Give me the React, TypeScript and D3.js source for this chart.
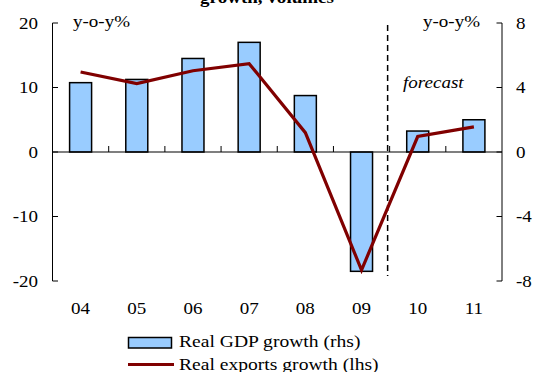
import React from "react";
import * as d3 from "d3";

const categories = ["04", "05", "06", "07", "08", "09", "10", "11"];
const gdpGrowth = [4.3, 4.5, 5.8, 6.8, 3.5, -7.4, 1.3, 2.0];
const exportsGrowth = [12.4, 10.6, 12.6, 13.7, 3.0, -18.3, 2.4, 3.9];
const leftTicks = [-20, -10, 0, 10, 20];
const rightTicks = [-8, -4, 0, 4, 8];

const W = 534;
const H = 372;
const FONT = "Liberation Serif, Times New Roman, serif";
const SX = 1.12;

type TProps = {
  x: number;
  y: number;
  size: number;
  anchor?: "start" | "middle" | "end";
  italic?: boolean;
  bold?: boolean;
  dy?: string;
  children: React.ReactNode;
};

function T({ x, y, size, anchor = "start", italic, bold, dy, children }: TProps) {
  return (
    <text
      transform={`translate(${x},${y}) scale(${SX},1)`}
      dy={dy}
      textAnchor={anchor}
      fill="#000"
      style={{
        fontFamily: FONT,
        fontSize: size,
        fontStyle: italic ? "italic" : "normal",
        fontWeight: bold ? "bold" : "normal",
      }}
    >
      {children}
    </text>
  );
}

export default function App() {
  const x = d3.scaleBand<string>().domain(categories).range([52.5, 502]).paddingInner(0).paddingOuter(0);
  const yL = d3.scaleLinear().domain([-20, 20]).range([281, 23]);
  const yR = d3.scaleLinear().domain([-8, 8]).range([281, 23]);
  const bw = 22;
  const cx = (c: string) => (x(c) as number) + x.bandwidth() / 2;

  const line = d3
    .line<number>()
    .x((_, i) => cx(categories[i]))
    .y((d) => yL(d));

  const forecastX = (x("10") as number) - 2;

  return (
    <svg width={W} height={H} style={{ position: "absolute", left: 0, top: 0, background: "#fff" }}>
      <rect x={0} y={0} width={W} height={H} fill="#fff" />
      <T x={267} y={3} size={17} anchor="middle" bold>
        growth, volumes
      </T>

      {/* bars */}
      {gdpGrowth.map((v, i) => {
        const c = categories[i];
        const y0 = yR(0);
        const y1 = yR(v);
        return (
          <rect
            key={c}
            x={cx(c) - bw / 2}
            y={Math.min(y0, y1)}
            width={bw}
            height={Math.abs(y1 - y0)}
            fill="#99CCFF"
            stroke="#000"
            strokeWidth={1.5}
          />
        );
      })}

      {/* x axis line at zero */}
      <line x1={52.5} x2={502} y1={yL(0)} y2={yL(0)} stroke="#000" strokeWidth={1.2} />
      {categories.slice(1).map((c) => (
        <line
          key={"xt" + c}
          x1={x(c) as number}
          x2={x(c) as number}
          y1={yL(0)}
          y2={yL(0) - 6}
          stroke="#000"
          strokeWidth={1}
        />
      ))}

      {/* left axis */}
      <line x1={52.5} x2={52.5} y1={yL(20)} y2={yL(-20)} stroke="#000" strokeWidth={1} />
      {leftTicks.map((t) => (
        <g key={"lt" + t}>
          <line x1={52.5} x2={58} y1={yL(t)} y2={yL(t)} stroke="#000" strokeWidth={1} />
          <T x={38} y={yL(t)} dy="0.35em" anchor="end" size={17}>
            {t}
          </T>
        </g>
      ))}

      {/* right axis */}
      <line x1={502} x2={502} y1={yR(8)} y2={yR(-8)} stroke="#000" strokeWidth={1} />
      {rightTicks.map((t) => (
        <g key={"rt" + t}>
          <line x1={496.5} x2={502} y1={yR(t)} y2={yR(t)} stroke="#000" strokeWidth={1} />
          <T x={516} y={yR(t)} dy="0.35em" size={17}>
            {t}
          </T>
        </g>
      ))}

      {/* category labels */}
      {categories.map((c) => (
        <T key={"cl" + c} x={cx(c)} y={314} anchor="middle" size={17}>
          {c}
        </T>
      ))}

      {/* forecast divider */}
      <line
        x1={forecastX}
        x2={forecastX}
        y1={25}
        y2={276}
        stroke="#000"
        strokeWidth={1.5}
        strokeDasharray="6,4"
      />
      <T x={403} y={88} size={17} italic>
        forecast
      </T>

      {/* unit labels */}
      <T x={73} y={27} size={17}>
        y-o-y%
      </T>
      <T x={480} y={27} anchor="end" size={17}>
        y-o-y%
      </T>

      {/* line */}
      <path d={line(exportsGrowth) as string} fill="none" stroke="#800000" strokeWidth={3.2} strokeLinejoin="miter" />

      {/* legend */}
      <rect x={128.5} y={337.5} width={43} height={10.5} fill="#99CCFF" stroke="#000" strokeWidth={1.5} />
      <T x={179} y={347} size={17.5}>
        Real GDP growth (rhs)
      </T>
      <line x1={128} x2={174} y1={364.5} y2={364.5} stroke="#800000" strokeWidth={3.2} />
      <T x={179} y={369.5} size={17.5}>
        Real exports growth (lhs)
      </T>
    </svg>
  );
}
